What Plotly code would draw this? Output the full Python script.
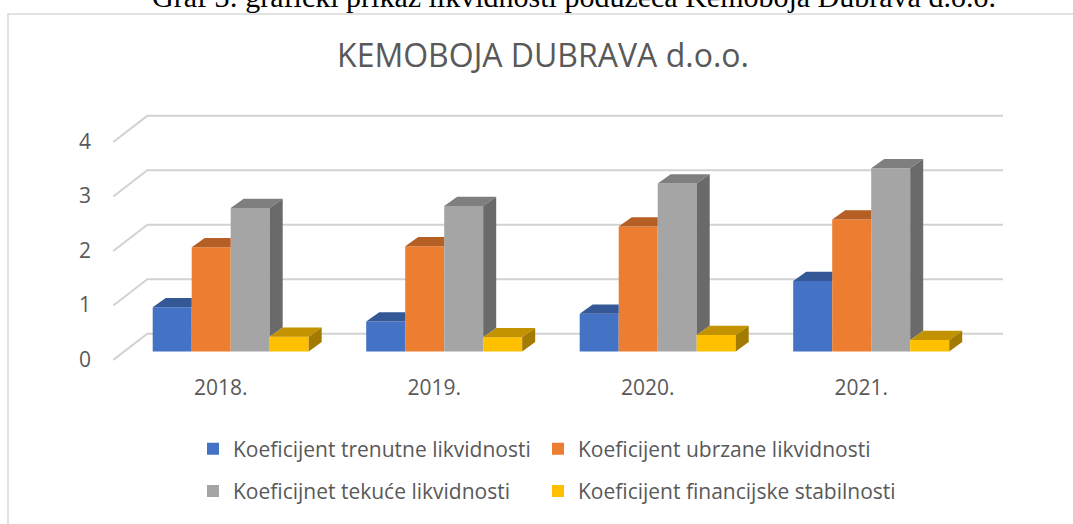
import plotly.graph_objects as go

# ---------------- data ----------------
categories = ["2018.", "2019.", "2020.", "2021."]
trenutne = [0.81, 0.55, 0.69, 1.29]
ubrzane = [1.91, 1.93, 2.29, 2.42]
tekuce = [2.63, 2.67, 3.08, 3.36]
stabilnosti = [0.27, 0.26, 0.30, 0.21]
series_names = [
    "Koeficijent trenutne likvidnosti",
    "Koeficijent ubrzane likvidnosti",
    "Koeficijnet tekuće likvidnosti",
    "Koeficijent financijske stabilnosti",
]
y_ticks = [0, 1, 2, 3, 4]
title_text = "KEMOBOJA DUBRAVA d.o.o."
caption_text = "Graf 3: grafički prikaz likvidnosti poduzeća Kemoboja Dubrava d.o.o."

# ---------------- style ----------------
front_colors = ["#4472C4", "#ED7D31", "#A5A5A5", "#FFC000"]
top_colors = ["#345896", "#B65F25", "#7F7F7F", "#C29200"]
side_colors = ["#2B497D", "#985020", "#6A6A6A", "#A37B00"]
text_color = "#595959"
FONT = "Open Sans"

W, H = 1073, 524
L, R, T, B = 100, 63, 100, 149
plot_w = W - L - R
plot_h = H - T - B
px_per_cat = 213.5
px_per_unit = 55.7
x_first_px = 230.7
y_zero_px = 357.0
x_range = [(L - x_first_px) / px_per_cat, (W - R - x_first_px) / px_per_cat]
y_range = [(y_zero_px - (T + plot_h)) / px_per_unit, (y_zero_px - T) / px_per_unit]

group_frac = 156.0 / px_per_cat
bargap = 1 - group_frac
bw = group_frac / 4
ddx = 13.0 / px_per_cat
ddy = 9.5 / px_per_unit

all_series = [trenutne, ubrzane, tekuce, stabilnosti]
xs = list(range(len(categories)))
legend_ids = ["legend", "legend2", "legend3", "legend4"]

fig = go.Figure()

# front faces (real bars)
for s, vals in enumerate(all_series):
    fig.add_trace(go.Bar(
        x=xs, y=vals, name=series_names[s],
        marker=dict(color=front_colors[s], line=dict(width=0)),
        legend=legend_ids[s],
        hovertemplate="%{y}<extra>" + series_names[s] + "</extra>",
    ))

# pseudo 3D faces (top and right side), clipped against next bar front
for s, vals in enumerate(all_series):
    tx, ty, sx, sy = [], [], [], []
    for c, v in enumerate(vals):
        x0 = c - group_frac / 2 + s * bw
        x1 = x0 + bw
        vn = all_series[s + 1][c] if s < len(all_series) - 1 else None
        if vn is None or vn <= v:
            top = [(x0, v), (x1, v), (x1 + ddx, v + ddy), (x0 + ddx, v + ddy)]
        elif vn >= v + ddy:
            top = [(x0, v), (x1, v), (x1, v + ddy), (x0 + ddx, v + ddy)]
        else:
            top = [(x0, v), (x1, v), (x1, vn), (x1 + ddx * (vn - v) / ddy, vn),
                   (x1 + ddx, v + ddy), (x0 + ddx, v + ddy)]
        for px_, py_ in top + [top[0]]:
            tx.append(px_); ty.append(py_)
        tx.append(None); ty.append(None)
        if vn is None or v > vn:
            base = 0 if vn is None else vn
            side = [(x1, base), (x1, v), (x1 + ddx, v + ddy), (x1 + ddx, base + ddy)]
            for px_, py_ in side + [side[0]]:
                sx.append(px_); sy.append(py_)
            sx.append(None); sy.append(None)
    fig.add_trace(go.Scatter(x=tx, y=ty, mode="lines", fill="toself",
                             fillcolor=top_colors[s], line=dict(width=0, color=top_colors[s]),
                             hoverinfo="skip", showlegend=False))
    if sx:
        fig.add_trace(go.Scatter(x=sx, y=sy, mode="lines", fill="toself",
                                 fillcolor=side_colors[s], line=dict(width=0, color=side_colors[s]),
                                 hoverinfo="skip", showlegend=False))

# back wall gridlines with floor diagonals
back_off = 18.0 / px_per_unit
front_off = -8.7 / px_per_unit
x_front = (113.3 - x_first_px) / px_per_cat
x_back = (147.3 - x_first_px) / px_per_cat
x_right = (1003 - x_first_px) / px_per_cat
shapes = []
for v in y_ticks:
    shapes.append(dict(
        type="path", xref="x", yref="y", layer="below",
        path=f"M{x_front},{v + front_off} L{x_back},{v + back_off} L{x_right},{v + back_off}",
        line=dict(color="#D2D2D2", width=2),
    ))
# outer chart border
shapes.append(dict(type="rect", xref="paper", yref="paper",
                   x0=(8 - L) / plot_w, x1=(1090 - L) / plot_w,
                   y0=(T + plot_h - 540) / plot_h, y1=(T + plot_h - 12) / plot_h,
                   line=dict(color="#D9D9D9", width=1.5), layer="below"))

# legend placement (one legend per entry, 2 x 2 grid)
leg_x_px = [193, 538, 193, 538]
leg_y_px = [457, 457, 500, 500]
legends = {}
for i, lid in enumerate(legend_ids):
    legends[lid] = dict(
        x=(leg_x_px[i] - L) / plot_w, xanchor="left",
        y=(T + plot_h - leg_y_px[i]) / plot_h, yanchor="middle",
        font=dict(family=FONT, size=21, color=text_color),
        bgcolor="rgba(0,0,0,0)", borderwidth=0,
    )

fig.update_layout(
    width=W, height=H,
    margin=dict(l=L, r=R, t=T, b=B),
    paper_bgcolor="white", plot_bgcolor="white",
    barmode="group", bargap=bargap, bargroupgap=0,
    font=dict(family=FONT, size=21, color=text_color),
    title=dict(text=title_text, x=543 / W, xanchor="center", xref="container",
               y=1 - 56 / H, yanchor="middle", yref="container",
               font=dict(family=FONT, size=32, color=text_color)),
    xaxis=dict(range=x_range, tickmode="array", tickvals=xs, ticktext=categories,
               showgrid=False, zeroline=False, showline=False, ticks="",
               ticklabelshift=-10, ticklabelstandoff=4, fixedrange=True),
    yaxis=dict(range=y_range, tickmode="array", tickvals=y_ticks,
               ticktext=[str(t) for t in y_ticks],
               showgrid=False, zeroline=False, showline=False, ticks="",
               ticklabelshift=8, ticklabelstandoff=8, fixedrange=True),
    shapes=shapes,
    annotations=[dict(text=caption_text, xref="paper", yref="paper",
                      x=(574 - L) / plot_w, y=(T + plot_h + 6) / plot_h,
                      xanchor="center", yanchor="middle", showarrow=False,
                      font=dict(family="Liberation Serif", size=30, color="black"))],
    showlegend=True,
    **legends,
)

fig.write_html("out.html", config={"displayModeBar": False},
               post_script="document.body.style.margin='0px';")
